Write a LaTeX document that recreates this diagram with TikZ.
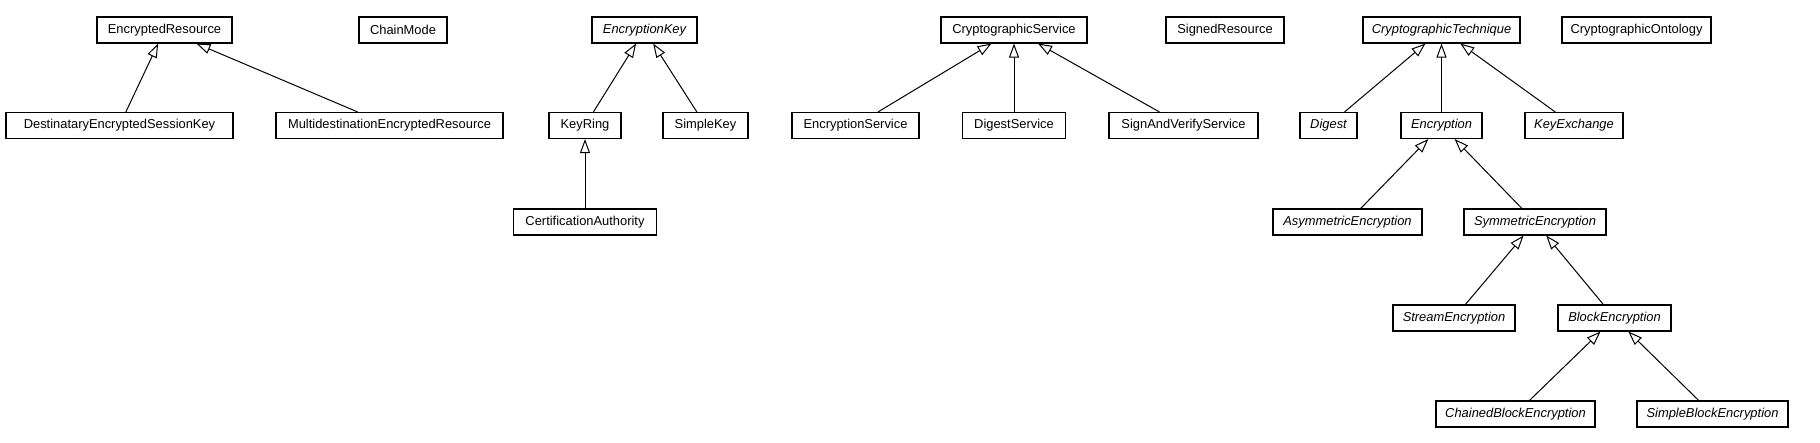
\documentclass[tikz,border=0pt]{standalone}
\usepackage{fontspec}
\setmainfont{Liberation Sans}
\usetikzlibrary{arrows.meta}
\tikzset{
  cls/.style={draw, line width=1.1pt, rectangle, inner sep=0pt, minimum height=26pt, font=\fontsize{12.9}{15}\selectfont},
  abs/.style={cls, font=\fontsize{12.9}{15}\selectfont\itshape},
  inh/.style={line width=1pt, -{Triangle[open,length=14pt,width=10pt,line width=1pt]}}
}
\begin{document}
\begin{tikzpicture}[x=1pt,y=-1pt]
\useasboundingbox (0,0) rectangle (1820,443);
\node[cls, minimum width=135pt] (er) at (164.5,30) {EncryptedResource};
\node[cls, minimum width=88pt] (cm) at (403,30) {ChainMode};
\node[cls, minimum width=227pt] (desk) at (119.5,125.5) {DestinataryEncryptedSessionKey};
\node[cls, minimum width=227pt] (mer) at (389.5,125.5) {MultidestinationEncryptedResource};
\node[abs, minimum width=105pt] (ek) at (644.5,30) {EncryptionKey};
\node[cls, minimum width=72pt] (kr) at (585,125.5) {KeyRing};
\node[cls, minimum width=85pt] (sk) at (705.5,125.5) {SimpleKey};
\node[cls, minimum width=143pt] (ca) at (585,222) {CertificationAuthority};
\node[cls, minimum width=146pt] (cs) at (1014,30) {CryptographicService};
\node[cls, minimum width=127pt] (es) at (855.5,125.5) {EncryptionService};
\node[cls, minimum width=103pt] (ds) at (1014,125.5) {DigestService};
\node[cls, minimum width=149pt] (svs) at (1183.5,125.5) {SignAndVerifyService};
\node[cls, minimum width=118pt] (sr) at (1225,30) {SignedResource};
\node[abs, minimum width=157pt] (ct) at (1441.5,30) {CryptographicTechnique};
\node[cls, minimum width=149pt] (co) at (1636.5,30) {CryptographicOntology};
\node[abs, minimum width=57pt] (dg) at (1328.5,125.5) {Digest};
\node[abs, minimum width=81pt] (enc) at (1441.5,125.5) {Encryption};
\node[abs, minimum width=98pt] (ke) at (1574,125.5) {KeyExchange};
\node[abs, minimum width=149pt] (asym) at (1347.5,222) {AsymmetricEncryption};
\node[abs, minimum width=142pt] (sym) at (1535,222) {SymmetricEncryption};
\node[abs, minimum width=122pt] (str) at (1454,318) {StreamEncryption};
\node[abs, minimum width=113pt] (blk) at (1614.5,318) {BlockEncryption};
\node[abs, minimum width=159pt] (cbe) at (1515.5,414) {ChainedBlockEncryption};
\node[abs, minimum width=151pt] (sbe) at (1712.5,414) {SimpleBlockEncryption};
\draw[inh] (desk) -- (er);
\draw[inh] (mer) -- (er);
\draw[inh] (kr) -- (ek);
\draw[inh] (sk) -- (ek);
\draw[inh] (ca) -- (kr);
\draw[inh] (es) -- (cs);
\draw[inh] (ds) -- (cs);
\draw[inh] (svs) -- (cs);
\draw[inh] (dg) -- (ct);
\draw[inh] (enc) -- (ct);
\draw[inh] (ke) -- (ct);
\draw[inh] (asym) -- (enc);
\draw[inh] (sym) -- (enc);
\draw[inh] (str) -- (sym);
\draw[inh] (blk) -- (sym);
\draw[inh] (cbe) -- (blk);
\draw[inh] (sbe) -- (blk);
\end{tikzpicture}
\end{document}
